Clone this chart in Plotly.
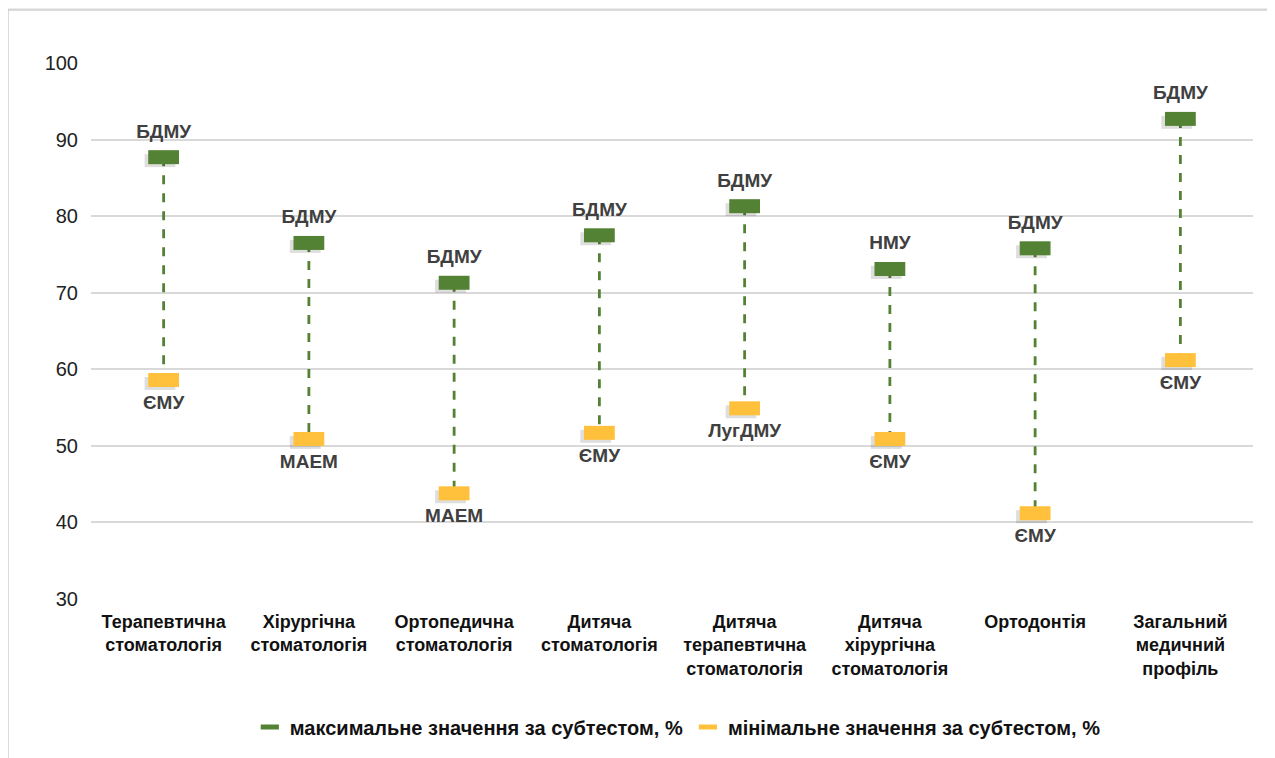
import plotly.graph_objects as go

categories = ["Терапевтична<br>стоматологія", "Хірургічна<br>стоматологія", "Ортопедична<br>стоматологія",
              "Дитяча<br>стоматологія", "Дитяча<br>терапевтична<br>стоматологія", "Дитяча<br>хірургічна<br>стоматологія",
              "Ортодонтія", "Загальний<br>медичний<br>профіль"]
max_values = [87.7, 76.5, 71.3, 77.5, 81.3, 73.1, 75.8, 92.7]
min_values = [58.6, 50.9, 43.8, 51.7, 54.9, 50.9, 41.2, 61.2]
max_labels = ["БДМУ", "БДМУ", "БДМУ", "БДМУ", "БДМУ", "НМУ", "БДМУ", "БДМУ"]
min_labels = ["ЄМУ", "МАЕМ", "МАЕМ", "ЄМУ", "ЛугДМУ", "ЄМУ", "ЄМУ", "ЄМУ"]
y_ticks = [30, 40, 50, 60, 70, 80, 90, 100]
series_names = ["максимальне значення за субтестом, %", "мінімальне значення за субтестом, %"]

GREEN = "#548235"
YELLOW = "#FFC13B"
FONT = "Liberation Sans, Arial"
x = list(range(len(categories)))

fig = go.Figure()

# dashed connectors
lx, ly = [], []
for i in x:
    lx += [i, i, None]
    ly += [max_values[i], min_values[i], None]
fig.add_trace(go.Scatter(x=lx, y=ly, mode="lines", line=dict(color=GREEN, width=2.8, dash="dash"),
                         showlegend=False, hoverinfo="skip"))

# soft shadows
for vals in (max_values, min_values):
    fig.add_trace(go.Scatter(x=[i - 0.025 for i in x], y=[v - 0.45 for v in vals], mode="markers",
                             marker=dict(symbol="line-ew", size=22, line=dict(width=13, color="rgba(0,0,0,0.13)")),
                             showlegend=False, hoverinfo="skip"))

fig.add_trace(go.Scatter(x=x, y=max_values, mode="markers+text", text=max_labels, textposition="top center",
                         textfont=dict(family=FONT, size=19, color="#404040", weight="bold"),
                         marker=dict(symbol="line-ew", size=22, line=dict(width=14, color=GREEN)),
                         name=series_names[0], showlegend=False))
fig.add_trace(go.Scatter(x=x, y=min_values, mode="markers+text", text=min_labels, textposition="bottom center",
                         textfont=dict(family=FONT, size=19, color="#404040", weight="bold"),
                         marker=dict(symbol="line-ew", size=22, line=dict(width=14, color=YELLOW)),
                         name=series_names[1], showlegend=False))

# legend entries with smaller symbols
for name, col in zip(series_names, (GREEN, YELLOW)):
    fig.add_trace(go.Scatter(x=[None], y=[None], mode="markers", name=name,
                             marker=dict(symbol="line-ew", size=13, line=dict(width=8, color=col))))

fig.update_layout(
    width=1275, height=758,
    paper_bgcolor="#ececec", plot_bgcolor="white",
    margin=dict(l=83, r=30, t=55, b=167),
    font=dict(family=FONT, color="#222"),
    showlegend=True,
    legend=dict(orientation="h", x=0.505, xanchor="center", y=-0.239, yanchor="middle",
                font=dict(family=FONT, size=20, color="#111", weight="bold"),
                itemwidth=30, bgcolor="rgba(0,0,0,0)"),
    xaxis=dict(tickmode="array", tickvals=x, ticktext=categories, range=[-0.5, 7.5],
               showgrid=False, zeroline=False, showline=False, ticklabelstandoff=10,
               tickfont=dict(size=18, color="#111", weight="bold"), ticks=""),
    yaxis=dict(range=[30, 100], tickvals=y_ticks, showgrid=True, gridcolor="#d9d9d9", gridwidth=1.5,
               zeroline=False, showline=False, tickfont=dict(size=20, color="#222"), ticks="outside",
               tickcolor="rgba(0,0,0,0)", ticklen=8),
    shapes=[dict(type="rect", xref="paper", yref="paper", x0=-83/1162, x1=1177/1162, y0=-0.35, y1=1 + 53/536,
                 fillcolor="white", line=dict(color="#d0d0d0", width=1.5), layer="below")],
)

fig.write_html("out.html")
